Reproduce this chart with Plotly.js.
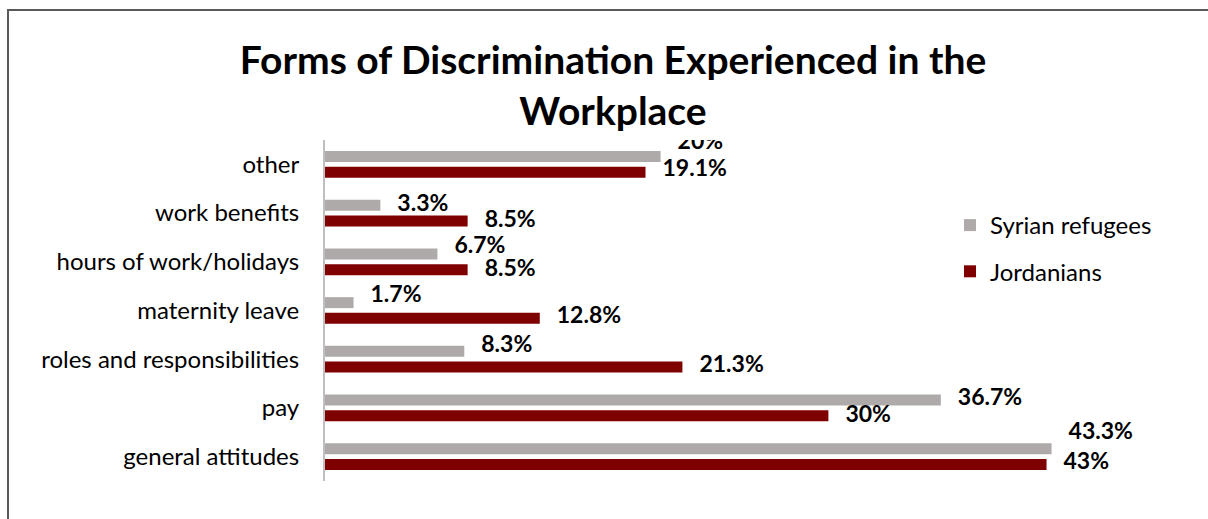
<!DOCTYPE html>
<html><head><meta charset="utf-8">
<script src="https://cdn.plot.ly/plotly-3.0.1.min.js"></script>
<style>
html,body{margin:0;padding:0;background:#fff;}
#frame{position:absolute;left:7px;top:9px;right:0;bottom:0;border-top:2px solid #595959;border-left:2px solid #595959;}
#chart{position:absolute;left:0;top:0;width:1208px;height:519px;}
</style></head><body>
<div id="frame"></div>
<div id="chart"></div>
<script>
// ---- data (bottom to top) ----
const categories = ['general attitudes','pay','roles and responsibilities','maternity leave','hours of work/holidays','work benefits','other'];
const syrianRefugees = [43.3, 36.7, 8.3, 1.7, 6.7, 3.3, 20];
const jordanians = [43, 30, 21.3, 12.8, 8.5, 8.5, 19.1];
const syrianLabels = ['43.3%','36.7%','8.3%','1.7%','6.7%','3.3%','20%'];
const jordanianLabels = ['43%','30%','21.3%','12.8%','8.5%','8.5%','19.1%'];
const seriesNames = ['Syrian refugees','Jordanians'];

// ---- label nudges in pixels (layout only; negative = up) ----
const syrianNudgePx = [-16,-1,-5,-6,-7,0,-13];
const jordanNudgePx = [-1,0,-1,-1,1,0,-2];

const W = 1208, H = 519;
const M = {l:325, r:18, t:140, b:38};
const plotW = W - M.l - M.r, plotH = H - M.t - M.b;
const pxPerUnit = 16.78;
const bargap = 0.355, bargroupgap = 0.30;
const bandPx = plotH / categories.length;
const slot = (1 - bargap) / 2;
const idx = categories.map((c,i)=>i);

const GRAY = '#AEAAAA', RED = '#7F0000';
const FONT = 'Lato, "Open Sans", sans-serif';

const traces = [
  {type:'bar', orientation:'h', name:seriesNames[1], x:jordanians, y:idx,
   marker:{color:RED}, legendgroup:'j', legendrank:2, hoverinfo:'x+name'},
  {type:'bar', orientation:'h', name:seriesNames[0], x:syrianRefugees, y:idx,
   marker:{color:GRAY}, legendgroup:'s', legendrank:1, hoverinfo:'x+name'},
  {type:'scatter', mode:'markers+text', x:jordanians,
   y:idx.map(i => i - slot/2 - jordanNudgePx[i]/bandPx),
   text:jordanianLabels, textposition:'middle right',
   marker:{size:25.6, color:'rgba(0,0,0,0)'},
   textfont:{family:FONT, size:23, color:'#000', weight:'bold'},
   showlegend:false, hoverinfo:'skip', cliponaxis:true},
  {type:'scatter', mode:'markers+text', x:syrianRefugees,
   y:idx.map(i => i + slot/2 - syrianNudgePx[i]/bandPx),
   text:syrianLabels, textposition:'middle right',
   marker:{size:25.6, color:'rgba(0,0,0,0)'},
   textfont:{family:FONT, size:23, color:'#000', weight:'bold'},
   showlegend:false, hoverinfo:'skip', cliponaxis:true}
];

const layout = {
  width:W, height:H,
  margin:M,
  paper_bgcolor:'rgba(0,0,0,0)', plot_bgcolor:'rgba(0,0,0,0)',
  barmode:'group', bargap:bargap, bargroupgap:bargroupgap,
  title:{text:'Forms of Discrimination Experienced in the<br>Workplace',
         font:{family:FONT, size:39, color:'#000', weight:'bold'},
         x:613/W, xref:'container', xanchor:'center',
         y:1-74/H, yref:'container', yanchor:'top'},
  xaxis:{visible:false, range:[0, plotW/pxPerUnit], fixedrange:true},
  yaxis:{range:[-0.5, categories.length-0.5], tickvals:idx, ticktext:categories,
         showline:true, linecolor:'#BFBFBF', linewidth:2, showgrid:false, zeroline:false,
         ticks:'', ticklabelstandoff:19,
         tickfont:{family:FONT, size:24, color:'#000'}, fixedrange:true},
  showlegend:true,
  legend:{x:(950-M.l)/plotW, y:1-(203-M.t)/plotH, xanchor:'left', yanchor:'top',
          traceorder:'grouped', tracegroupgap:12,
          font:{family:FONT, size:24, color:'#000'}, bgcolor:'rgba(0,0,0,0)'}
};

Plotly.newPlot('chart', traces, layout, {displayModeBar:false, staticPlot:true});
</script>
</body></html>
